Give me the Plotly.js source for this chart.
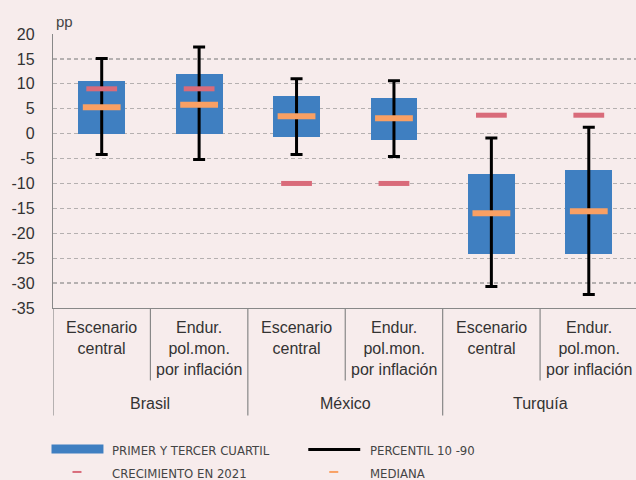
<!DOCTYPE html>
<html><head><meta charset="utf-8">
<script src="https://cdn.plot.ly/plotly-3.0.1.min.js"></script>
<style>html,body{margin:0;padding:0;background:#f7ecec;}</style>
</head><body>
<div id="chart" style="width:636px;height:480px;"></div>
<script>
// Data
const groups = ["Brasil", "México", "Turquía"];
const scenarios = ["Escenario<br>central", "Endur.<br>pol.mon.<br>por inflación",
                   "Escenario<br>central", "Endur.<br>pol.mon.<br>por inflación",
                   "Escenario<br>central", "Endur.<br>pol.mon.<br>por inflación"];
const q1 =     [0.0, 0.0, -0.7, -1.3, -24.2, -24.2];
const q3 =     [10.5, 11.9, 7.6, 7.1, -8.2, -7.2];
const median = [5.3, 5.8, 3.5, 3.1, -16.0, -15.6];
const p10 =    [-4.2, -5.2, -4.2, -4.6, -30.7, -32.3];
const p90 =    [15.1, 17.4, 11.0, 10.6, -0.9, 1.3];
const growth2021 = [9.0, 9.0, -10.0, -10.0, 3.7, 3.7];
const yTicks = [20, 15, 10, 5, 0, -5, -10, -15, -20, -25, -30, -35];

const xIdx = scenarios.map((_, i) => i);
const BLUE = "#3f7fc1", ORANGE = "#f9a064", RED = "#d96b7a";

const traces = [
  { type: "bar", x: xIdx, base: q1, y: q3.map((v, i) => v - q1[i]),
    width: 0.48, marker: { color: BLUE }, hoverinfo: "skip", showlegend: false },
  { type: "scatter", mode: "markers", x: xIdx, y: median,
    marker: { size: 1, color: "rgba(0,0,0,0)" },
    error_y: { type: "data", symmetric: false,
      array: p90.map((v, i) => v - median[i]),
      arrayminus: median.map((v, i) => v - p10[i]),
      color: "#000", thickness: 3, width: 6 },
    showlegend: false },
  { type: "scatter", mode: "markers", x: xIdx, y: growth2021,
    marker: { symbol: "line-ew", size: 22, line: { width: 5, color: RED } },
    showlegend: false },
  { type: "scatter", mode: "markers", x: xIdx, y: median,
    marker: { symbol: "line-ew", size: 27, line: { width: 6, color: ORANGE } },
    showlegend: false }
];

const plotL = 52.5, plotR = 636, plotT = 33.7, plotB = 307.6;
const pw = plotR - plotL, ph = plotB - plotT;
const px = (x) => (x - plotL) / pw;
const py = (y) => (plotB - y) / ph;

const FONT = "'Liberation Sans', Arial, Helvetica, sans-serif";
const NARROW = "'Liberation Sans Narrow', 'Arial Narrow', 'DejaVu Sans Condensed', sans-serif";
const annotations = [];
const shapes = [];

scenarios.forEach((s, i) => {
  annotations.push({ xref: "x", yref: "paper", x: i, y: py(317), yanchor: "top",
    text: s, showarrow: false, font: { family: FONT, size: 16, color: "#333" } });
});
groups.forEach((g, k) => {
  annotations.push({ xref: "x", yref: "paper", x: 2 * k + 0.5, y: py(403), yanchor: "middle",
    text: g, showarrow: false, font: { family: FONT, size: 16, color: "#333" } });
});
[0.5, 2.5, 4.5].forEach(x => shapes.push({ type: "line", xref: "x", yref: "paper",
  x0: x, x1: x, y0: 0, y1: py(380), line: { color: "#888", width: 1.2 } }));
[-0.5, 1.5, 3.5].forEach(x => shapes.push({ type: "line", xref: "x", yref: "paper",
  x0: x, x1: x, y0: 0, y1: py(415), line: { color: "#888", width: 1.2 } }));

annotations.push({ xref: "paper", yref: "paper", x: px(54), y: py(21), xanchor: "left",
  yanchor: "middle", text: "pp", showarrow: false, font: { family: FONT, size: 15, color: "#444" } });

// Legend
shapes.push({ type: "rect", xref: "paper", yref: "paper", x0: px(51), x1: px(103),
  y0: py(453), y1: py(444), fillcolor: BLUE, line: { width: 0 } });
shapes.push({ type: "line", xref: "paper", yref: "paper", x0: px(308), x1: px(360),
  y0: py(449), y1: py(449), line: { color: "#000", width: 3 } });
shapes.push({ type: "line", xref: "paper", yref: "paper", x0: px(72), x1: px(81),
  y0: py(471.5), y1: py(471.5), line: { color: RED, width: 2 } });
shapes.push({ type: "line", xref: "paper", yref: "paper", x0: px(329), x1: px(338),
  y0: py(471.5), y1: py(471.5), line: { color: ORANGE, width: 2 } });
[["PRIMER Y TERCER CUARTIL", 110, 450.5], ["PERCENTIL 10 -90", 368, 450.5],
 ["CRECIMIENTO EN 2021", 110, 473], ["MEDIANA", 368, 473]].forEach(([t, x, y]) => {
  annotations.push({ xref: "paper", yref: "paper", x: px(x), y: py(y), xanchor: "left",
    yanchor: "middle", text: t, showarrow: false,
    font: { family: NARROW, size: 13, color: "#444" } });
});

const layout = {
  width: 636, height: 480,
  paper_bgcolor: "#f7ecec", plot_bgcolor: "#f7ecec",
  margin: { l: plotL, r: 0, t: plotT, b: 480 - plotB, pad: 0 },
  showlegend: false,
  bargap: 0,
  xaxis: { range: [-0.5, 5.5 - 1.5 / 97.5], showticklabels: false, ticks: "",
    showgrid: false, zeroline: false, showline: true, linecolor: "#888", linewidth: 1.2,
    fixedrange: true },
  yaxis: { range: [-35, 20], tickvals: yTicks, ticktext: yTicks.map(String),
    showgrid: true, gridcolor: "#b5b0b0", griddash: "4px,3px", gridwidth: 1.3,
    zeroline: false, showline: true, linecolor: "#888", linewidth: 1.2,
    ticks: "", ticklabelstandoff: 14,
    tickfont: { family: FONT, size: 16, color: "#333" }, fixedrange: true },
  annotations, shapes
};

Plotly.newPlot("chart", traces, layout, { staticPlot: true });
</script>
</body></html>
